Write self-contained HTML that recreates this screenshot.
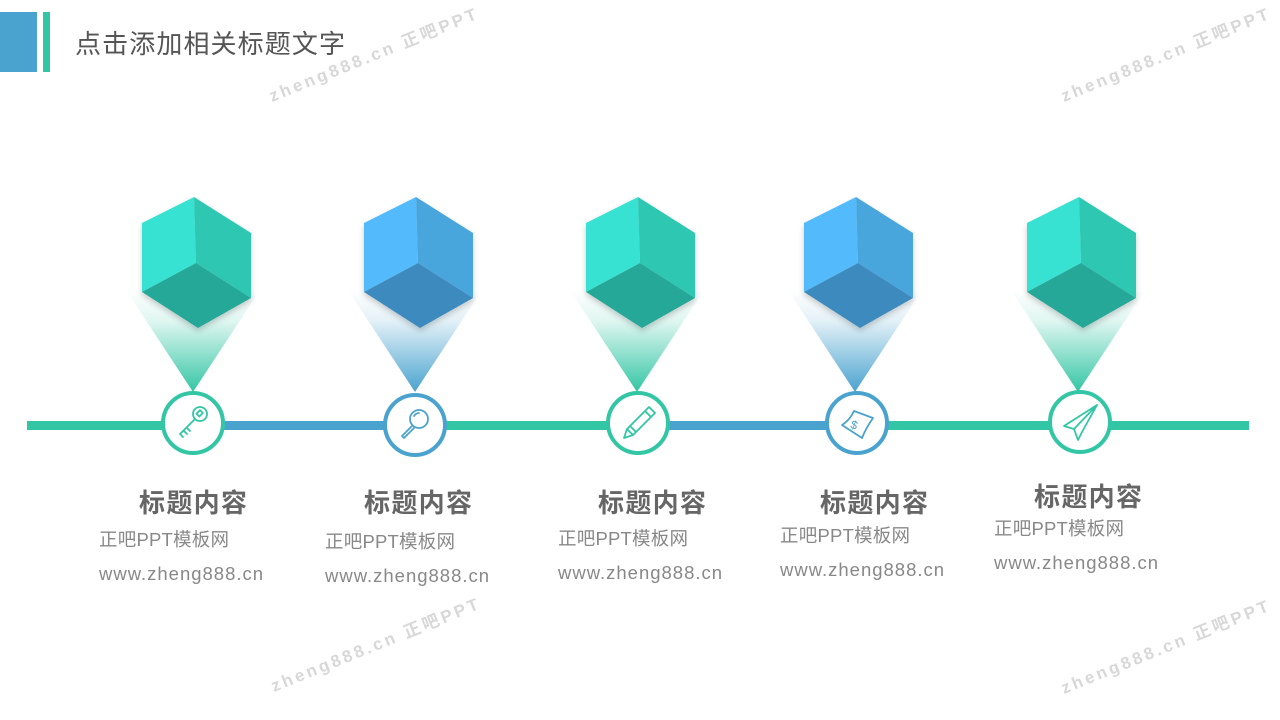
<!DOCTYPE html>
<html><head><meta charset="utf-8">
<style>
html,body{margin:0;padding:0;background:#fff;}
svg{display:block;}
text{font-family:"Liberation Sans","Noto Sans CJK SC",sans-serif;}
</style></head><body>
<svg width="1280" height="720" viewBox="0 0 1280 720" xmlns="http://www.w3.org/2000/svg">
<defs>
<linearGradient id="bg" x1="0" y1="0" x2="0" y2="1">
<stop offset="0" stop-color="#33c6a4" stop-opacity="0"/>
<stop offset="0.3" stop-color="#33c6a4" stop-opacity="0.15"/>
<stop offset="1" stop-color="#33c6a4" stop-opacity="1"/>
</linearGradient>
<linearGradient id="bb" x1="0" y1="0" x2="0" y2="1">
<stop offset="0" stop-color="#4aa3cf" stop-opacity="0"/>
<stop offset="0.3" stop-color="#4aa3cf" stop-opacity="0.15"/>
<stop offset="1" stop-color="#4aa3cf" stop-opacity="1"/>
</linearGradient>
<filter id="sh" x="-20%" y="-20%" width="140%" height="140%">
<feDropShadow dx="0" dy="3" stdDeviation="3" flood-color="#000" flood-opacity="0.2"/>
</filter>
<g id="cg">
<polygon points="-70,290 64,290 -3,392" fill="url(#bg)"/>
<g filter="url(#sh)">
<polygon points="-2,197 -54,223 -54,292 0,263" fill="#38e2d2"/>
<polygon points="-2,197 0,263 55,298 55,233" fill="#2fc8b2"/>
<polygon points="-54,292 2,328 55,298 0,263" fill="#27a898"/>
</g>
</g>
<g id="cb">
<polygon points="-70,290 64,290 -3,392" fill="url(#bb)"/>
<g filter="url(#sh)">
<polygon points="-2,197 -54,223 -54,292 0,263" fill="#52bbfb"/>
<polygon points="-2,197 0,263 55,298 55,233" fill="#4aa6dc"/>
<polygon points="-54,292 2,328 55,298 0,263" fill="#3e8bbe"/>
</g>
</g>
</defs>
<rect x="0" y="12" width="37" height="60" fill="#4aa3cf"/>
<rect x="43" y="12" width="7" height="60" fill="#33c6a4"/>
<text x="75" y="53" font-size="26" fill="#555" textLength="270">点击添加相关标题文字</text>
<g fill="#d8d8d8" font-size="17" font-weight="bold" letter-spacing="3">
<text transform="translate(272,102) rotate(-22)">zheng888.cn 正吧PPT</text>
<text transform="translate(1064,102) rotate(-22)">zheng888.cn 正吧PPT</text>
<text transform="translate(274,692) rotate(-22)">zheng888.cn 正吧PPT</text>
<text transform="translate(1064,694) rotate(-22)">zheng888.cn 正吧PPT</text>
</g>
<use href="#cg" x="196"/>
<use href="#cb" x="418"/>
<use href="#cg" x="640"/>
<use href="#cb" x="858"/>
<use href="#cg" x="1081"/>
<rect x="27" y="421" width="170" height="9" fill="#33c6a4"/>
<rect x="193" y="421" width="224" height="9" fill="#4aa3cf"/>
<rect x="415" y="421" width="225" height="9" fill="#33c6a4"/>
<rect x="638" y="421" width="220" height="9" fill="#4aa3cf"/>
<rect x="857" y="421" width="392" height="9" fill="#33c6a4"/>
<g fill="#fff" stroke-width="4">
<circle cx="193" cy="423" r="30" stroke="#33c6a4"/>
<circle cx="415" cy="425" r="30" stroke="#4aa3cf"/>
<circle cx="638" cy="423" r="30" stroke="#33c6a4"/>
<circle cx="857" cy="423" r="30" stroke="#4aa3cf"/>
<circle cx="1080" cy="422" r="30" stroke="#33c6a4"/>
</g>
<g fill="none" stroke-width="1.8" stroke-linecap="round" stroke-linejoin="round">
<g stroke="#33c6a4">
<circle cx="200" cy="414" r="7"/>
<path d="M195 419 L180 434 L183 437 M187 428 L190 431 M184 431 L187 434"/>
<rect x="197" y="411" width="5" height="4" transform="rotate(-45 200 413)"/>
</g>
<g stroke="#4aa3cf">
<circle cx="419" cy="419" r="9"/>
<path d="M412 426 L402 436 L404 438 L414 428"/>
<path d="M414 416 Q416 413 419 413"/>
</g>
<g stroke="#33c6a4">
<path d="M655 413 L633 435 L624 438 L627 429 L649 407 Z M627 429 L633 435 M630 426 L636 432 M645 411 L651 417"/>
</g>
<g stroke="#4aa3cf">
<path d="M842 425 Q850 420 854 411 L873 418 Q866 428 862 438 Z"/>
<text x="851" y="430" font-size="12" fill="#4aa3cf" stroke="none" transform="rotate(20 857 425)">$</text>
</g>
<g stroke="#33c6a4">
<path d="M1097 405 L1064 426 L1074 429 L1078 440 L1082 432 Z M1074 429 L1097 405 M1082 432 L1097 405"/>
</g>
</g>
<g font-size="26" font-weight="bold" fill="#666" text-anchor="middle">
<text x="193" y="512" textLength="108">标题内容</text>
<text x="418" y="512" textLength="108">标题内容</text>
<text x="652" y="512" textLength="108">标题内容</text>
<text x="874" y="512" textLength="108">标题内容</text>
<text x="1088" y="506" textLength="108">标题内容</text>
</g>
<g font-size="18.5" fill="#888">
<text x="99" y="546" textLength="130">正吧PPT模板网</text>
<text x="99" y="580" textLength="164">www.zheng888.cn</text>
<text x="325" y="548" textLength="130">正吧PPT模板网</text>
<text x="325" y="582" textLength="164">www.zheng888.cn</text>
<text x="558" y="545" textLength="130">正吧PPT模板网</text>
<text x="558" y="579" textLength="164">www.zheng888.cn</text>
<text x="780" y="542" textLength="130">正吧PPT模板网</text>
<text x="780" y="576" textLength="164">www.zheng888.cn</text>
<text x="994" y="535" textLength="130">正吧PPT模板网</text>
<text x="994" y="569" textLength="164">www.zheng888.cn</text>
</g>
</svg>
</body></html>
